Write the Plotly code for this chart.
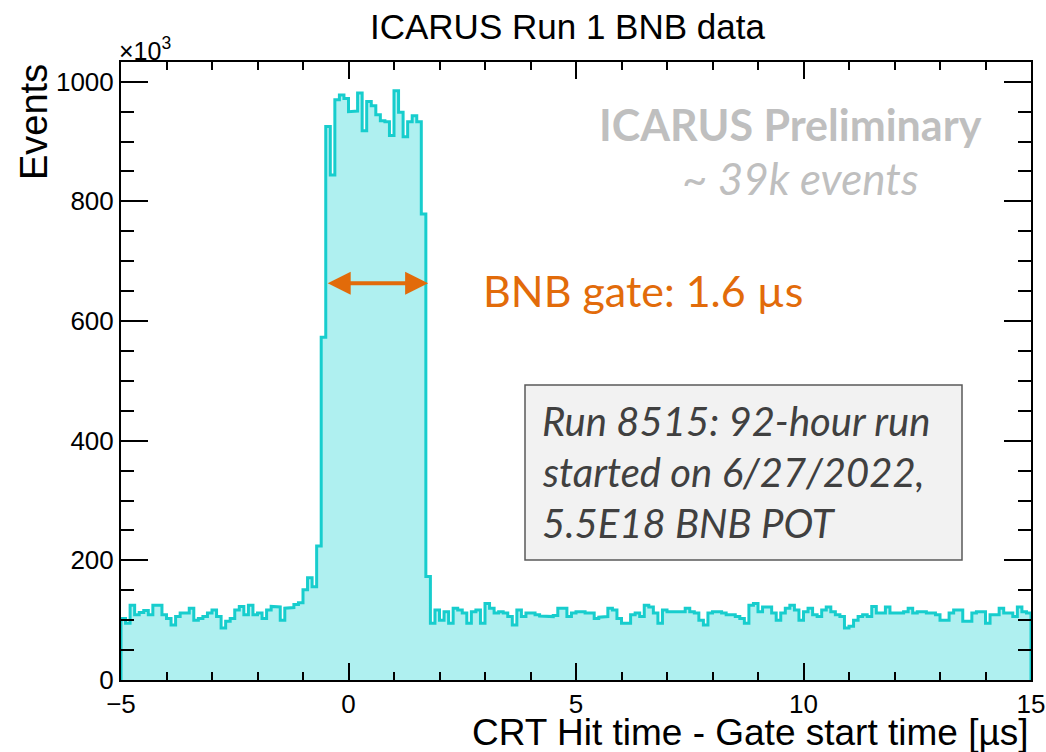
import numpy as np
import plotly.graph_objects as go

# ---------------- data (counts in units of 10^3 events per 0.1 us bin) ----------------
x_min = -5.0
x_max = 15.0
bin_width = 0.1

pre_gate = [103, 95, 125, 109, 113, 116, 109, 125, 125, 109,
            103, 92, 106, 112, 112, 120, 100, 103, 106, 112,
            117, 106, 87, 98, 103, 117, 123, 109, 125, 109,
            112, 103, 117, 123, 122, 100, 120, 121, 126, 129]
gate = [151, 171, 156, 224, 573, 925, 844, 970, 978, 972,
        950, 951, 981, 918, 967, 960, 945, 935, 933, 910,
        985, 949, 908, 933, 943, 933, 779, 173]
post_gate = [95, 117, 100, 114, 95, 120, 117, 112, 95, 114,
             117, 95, 128, 120, 112, 114, 112, 106, 92, 117,
             106, 112, 112, 109, 107, 106, 106, 108, 120, 120,
             106, 112, 114, 114, 112, 112, 103, 105, 106, 120,
             117, 103, 95, 95, 109, 112, 106, 125, 122, 112,
             95, 117, 114, 114, 114, 114, 120, 114, 112, 100,
             92, 112, 114, 114, 112, 109, 109, 106, 103, 95,
             125, 128, 114, 122, 122, 112, 100, 112, 120, 125,
             117, 100, 114, 120, 109, 106, 117, 122, 114, 109,
             106, 87, 90, 100, 106, 109, 106, 123, 112, 112,
             122, 112, 112, 112, 114, 120, 112, 114, 114, 112,
             112, 109, 100, 100, 112, 117, 117, 98, 98, 112,
             114, 114, 95, 109, 109, 120, 112, 112, 106, 122,
             114, 112]

x_ticks = [-5, 0, 5, 10, 15]
y_ticks = [0, 200, 400, 600, 800, 1000]

gate_arrow_start = -0.49
gate_arrow_end = 1.75
gate_arrow_level = 663

title_text = "ICARUS Run 1 BNB data"
x_title = "CRT Hit time - Gate start time [µs]"
y_title = "Events"
prelim_text = "ICARUS Preliminary"
events_text = "~ 39k events"
gate_text = "BNB gate: 1.6 µs"
box_lines = ["Run 8515: 92-hour run", "started on 6/27/2022,", "5.5E18 BNB POT"]

# ---------------- build step outline ----------------
counts = np.array(pre_gate + gate + post_gate, dtype=float)
n_bins = len(counts)
edges = x_min + bin_width * np.arange(n_bins + 1)
xs = np.concatenate([[edges[0]], np.repeat(edges, 2)[1:-1], [edges[-1]]])
ys = np.concatenate([[0.0], np.repeat(counts, 2), [0.0]])

LINE = "#17CDCD"
FILL = "#AFF0F0"
ORANGE = "#E26B0A"
GREY = "#BFBFBF"

fig = go.Figure()
fig.add_trace(go.Scatter(
    x=xs, y=ys, mode="lines",
    line=dict(color=LINE, width=3),
    fill="tozeroy", fillcolor=FILL,
    hoverinfo="skip", showlegend=False,
))

W, H = 1046, 752
L, R, T, B = 121, 15, 62, 72
pw, ph = W - L - R, H - T - B

def px(x):
    return (x - L) / pw

def py(y):
    return (H - B - y) / ph

axis_font = dict(family="Liberation Sans, Arial, sans-serif", size=26, color="black")

fig.update_layout(
    width=W, height=H,
    margin=dict(l=L, r=R, t=T, b=B, pad=0, autoexpand=False),
    paper_bgcolor="white", plot_bgcolor="white",
    showlegend=False,
    xaxis=dict(
        range=[x_min, x_max], tickvals=x_ticks, ticks="inside", ticklen=17,
        tickwidth=1.5, tickcolor="black", automargin=False,
        minor=dict(dtick=1, ticks="inside", ticklen=8, tickwidth=1.5, tickcolor="black"),
        showline=True, linecolor="black", linewidth=2, mirror="allticks",
        showgrid=False, zeroline=False, tickfont=axis_font,
    ),
    yaxis=dict(
        range=[0, 1033], tickvals=y_ticks, ticks="inside", ticklen=27,
        tickwidth=1.5, tickcolor="black", automargin=False,
        minor=dict(dtick=50, ticks="inside", ticklen=13, tickwidth=1.5, tickcolor="black"),
        showline=True, linecolor="black", linewidth=2, mirror="allticks",
        showgrid=False, zeroline=False, tickfont=axis_font,
    ),
)

ann = []
ann.append(dict(text=title_text, x=px(567), y=py(27), xref="paper", yref="paper",
                showarrow=False, xanchor="center", yanchor="middle",
                font=dict(family="Liberation Sans, Arial", size=35, color="black")))
ann.append(dict(text="×10<sup>3</sup>", x=px(117), y=py(49), xref="paper", yref="paper",
                showarrow=False, xanchor="left", yanchor="middle",
                font=dict(family="Liberation Sans, Arial", size=25, color="black")))
ann.append(dict(text=y_title, x=px(34), y=1.0, xref="paper", yref="paper", textangle=-90,
                showarrow=False, xanchor="center", yanchor="top",
                font=dict(family="Liberation Sans, Arial", size=38, color="black")))
ann.append(dict(text=x_title, x=1.0, y=py(732), xref="paper", yref="paper",
                showarrow=False, xanchor="right", yanchor="middle",
                font=dict(family="Liberation Sans, Arial", size=37, color="black")))
ann.append(dict(text="<b>" + prelim_text + "</b>", x=px(984), y=py(124), xref="paper", yref="paper",
                showarrow=False, xanchor="right", yanchor="middle",
                font=dict(family="Lato, Open Sans, sans-serif", size=43, color=GREY)))
ann.append(dict(text="<i>" + events_text + "</i>", x=px(800), y=py(178), xref="paper", yref="paper",
                showarrow=False, xanchor="center", yanchor="middle",
                font=dict(family="Lato, Open Sans, sans-serif", size=44, color=GREY)))
ann.append(dict(text=gate_text, x=px(481), y=py(290), xref="paper", yref="paper",
                showarrow=False, xanchor="left", yanchor="middle",
                font=dict(family="Lato, Open Sans, sans-serif", size=43, color=ORANGE)))
# double-headed gate arrow
ann.append(dict(text="", x=gate_arrow_end, y=gate_arrow_level, ax=gate_arrow_start, ay=gate_arrow_level,
                xref="x", yref="y", axref="x", ayref="y", showarrow=True,
                arrowhead=2, startarrowhead=2, arrowside="end+start",
                arrowsize=1.15, startarrowsize=1.15, arrowwidth=4, arrowcolor=ORANGE))
# box text
for i, line in enumerate(box_lines):
    ann.append(dict(text="<i>" + line + "</i>", x=px(540), y=py(421 + 51 * i), xref="paper", yref="paper",
                    showarrow=False, xanchor="left", yanchor="middle",
                    font=dict(family="Lato, Open Sans, sans-serif", size=40, color="#404040")))
fig.update_layout(annotations=ann)

fig.add_shape(type="rect", xref="paper", yref="paper",
              x0=px(525), x1=px(962), y0=py(560), y1=py(385),
              fillcolor="#F2F2F2", line=dict(color="#595959", width=1.5), layer="above")

fig.write_html("out.html")
